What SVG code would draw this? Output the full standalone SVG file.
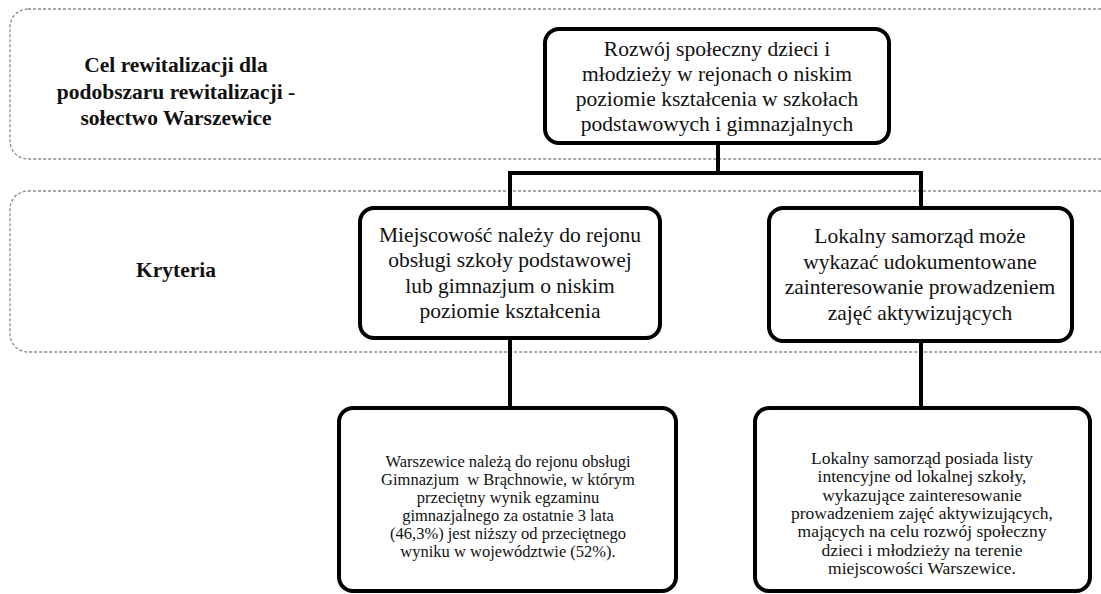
<svg xmlns="http://www.w3.org/2000/svg" width="1101" height="594" viewBox="0 0 1101 594">
<style>
.band{fill:none;stroke:#8a8a8a;stroke-width:1.3;stroke-dasharray:3 2}
.box{fill:#fff;stroke:#000;stroke-width:4}
.conn{fill:none;stroke:#000;stroke-width:4}
.lbl{font-family:"Liberation Serif",serif;font-weight:bold;font-size:21.5px;fill:#111;text-anchor:middle}
.t22{font-family:"Liberation Serif",serif;font-size:21.5px;fill:#111;text-anchor:middle}
.t16{font-family:"Liberation Serif",serif;font-size:16.5px;fill:#111;text-anchor:middle}
.t17{font-family:"Liberation Serif",serif;font-size:17.5px;fill:#111;text-anchor:middle}
</style>
<rect width="1101" height="594" fill="#fff"/>
<g id="bands">
<rect class="band" x="10" y="9" width="1120" height="150" rx="18"/>
<rect class="band" x="10" y="191" width="1120" height="161" rx="18"/>
</g>
<g id="band-labels">
<text class="lbl" x="176" y="72">Cel rewitalizacji dla</text>
<text class="lbl" x="176" y="99">podobszaru rewitalizacji -</text>
<text class="lbl" x="176" y="125">sołectwo Warszewice</text>
<text class="lbl" x="176" y="277">Kryteria</text>
</g>
<g id="connectors">
<polyline class="conn" points="718,142 718,173"/>
<polyline class="conn" points="510,208 510,173 921,173 921,208"/>
<line class="conn" x1="510" y1="338" x2="510" y2="408"/>
<line class="conn" x1="921" y1="341" x2="921" y2="408"/>
</g>
<g id="goal">
<rect class="box" x="545" y="29" width="344" height="114" rx="14"/>
<text class="t22" x="717" y="56">Rozwój społeczny dzieci i</text>
<text class="t22" x="717" y="81">młodzieży w rejonach o niskim</text>
<text class="t22" x="717" y="106">poziomie kształcenia w szkołach</text>
<text class="t22" x="717" y="131">podstawowych i gimnazjalnych</text>
</g>
<g id="crit1">
<rect class="box" x="360" y="208" width="300" height="130" rx="14"/>
<text class="t22" x="510" y="242">Miejscowość należy do rejonu</text>
<text class="t22" x="510" y="267">obsługi szkoły podstawowej</text>
<text class="t22" x="510" y="293">lub gimnazjum o niskim</text>
<text class="t22" x="510" y="318">poziomie kształcenia</text>
</g>
<g id="crit2">
<rect class="box" x="769" y="208" width="303" height="133" rx="14"/>
<text class="t22" x="920" y="243">Lokalny samorząd może</text>
<text class="t22" x="920" y="269">wykazać udokumentowane</text>
<text class="t22" x="920" y="294">zainteresowanie prowadzeniem</text>
<text class="t22" x="920" y="320">zajęć aktywizujących</text>
</g>
<g id="fact1">
<rect class="box" x="339" y="408" width="337" height="183" rx="14"/>
<text class="t16" x="508" y="467">Warszewice należą do rejonu obsługi</text>
<text class="t16" x="508" y="485" xml:space="preserve">Gimnazjum  w Brąchnowie, w którym</text>
<text class="t16" x="508" y="503">przeciętny wynik egzaminu</text>
<text class="t16" x="508" y="521">gimnazjalnego za ostatnie 3 lata</text>
<text class="t16" x="508" y="539">(46,3%) jest niższy od przeciętnego</text>
<text class="t16" x="508" y="557">wyniku w województwie (52%).</text>
</g>
<g id="fact2">
<rect class="box" x="755" y="408" width="335" height="183" rx="14"/>
<text class="t17" x="922" y="464">Lokalny samorząd posiada listy</text>
<text class="t17" x="922" y="482">intencyjne od lokalnej szkoły,</text>
<text class="t17" x="922" y="501">wykazujące zainteresowanie</text>
<text class="t17" x="922" y="519">prowadzeniem zajęć aktywizujących,</text>
<text class="t17" x="922" y="537">mających na celu rozwój społeczny</text>
<text class="t17" x="922" y="556">dzieci i młodzieży na terenie</text>
<text class="t17" x="922" y="574">miejscowości Warszewice.</text>
</g>
</svg>
